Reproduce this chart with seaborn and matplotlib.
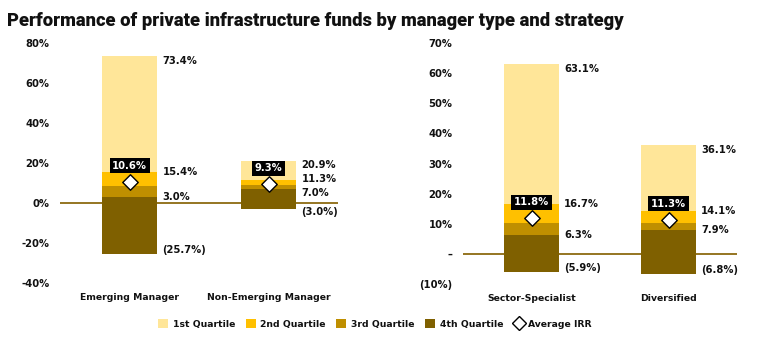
import matplotlib
matplotlib.use("Agg")
import matplotlib.pyplot as plt
from matplotlib.patches import Patch
from matplotlib.lines import Line2D
import seaborn as sns
import pandas as pd

# ---- data ----
left_categories = ["Emerging Manager", "Non-Emerging Manager"]
left_max = [73.4, 20.9]
left_q75 = [15.4, 11.3]
left_median = [8.5, 9.0]
left_q25 = [3.0, 7.0]
left_min = [-25.7, -3.0]
left_irr = [10.6, 9.3]
left_yticks = [-40, -20, 0, 20, 40, 60, 80]
left_yticklabels = ["-40%", "-20%", "0%", "20%", "40%", "60%", "80%"]

right_categories = ["Sector-Specialist", "Diversified"]
right_max = [63.1, 36.1]
right_q75 = [16.7, 14.1]
right_median = [10.3, 10.2]
right_q25 = [6.3, 7.9]
right_min = [-5.9, -6.8]
right_irr = [11.8, 11.3]
right_yticks = [-10, 0, 10, 20, 30, 40, 50, 60, 70]
right_yticklabels = ["(10%)", "\u2013", "10%", "20%", "30%", "40%", "50%", "60%", "70%"]

legend_labels = ["1st Quartile", "2nd Quartile", "3rd Quartile", "4th Quartile", "Average IRR"]

title = "Performance of private infrastructure funds by manager type and strategy"

# ---- style ----
C1 = "#FFE699"
C2 = "#FFC000"
C3 = "#BF8F00"
C4 = "#7F6000"
ZERO = "#8C6A10"
TXT = "#111111"

sns.set_style("white")
plt.rcParams["font.family"] = ["DejaVu Sans"]

fig = plt.figure(figsize=(7.68, 3.51), dpi=100)
W, H = 768, 351
ax_l = fig.add_axes([60 / W, 1 - 283 / H, 278 / W, 240 / H])
ax_r = fig.add_axes([463 / W, 1 - 284 / H, 274 / W, 241 / H])


def fmt(v):
    return f"({abs(v):.1f}%)" if v < 0 else f"{v:.1f}%"


def draw_panel(ax, cats, vmax, q75, med, q25, vmin, irr, ylim, yticks, yticklabels):
    ax.axhline(0, color=ZERO, lw=1.3, zorder=0.5)
    layers = [(vmax, C1), (q75, C2), (med, C3), (q25, C4), (vmin, C4)]
    for vals, col in layers:
        df = pd.DataFrame({"cat": cats, "val": vals})
        sns.barplot(data=df, x="cat", y="val", order=cats, color=col, width=0.4,
                    saturation=1, linewidth=0, errorbar=None, ax=ax, zorder=2)
    df_irr = pd.DataFrame({"cat": cats, "irr": irr})
    sns.scatterplot(data=df_irr, x="cat", y="irr", marker="D", s=62, color="white",
                    edgecolor="black", linewidth=1.0, ax=ax, zorder=5, legend=False)
    ax.set_xlim(-0.5, 1.5)
    ax.set_ylim(*ylim)
    ax.set_yticks(yticks)
    ax.set_yticklabels(yticklabels)
    ax.set_xlabel("")
    ax.set_ylabel("")
    ax.tick_params(axis="both", length=0)
    ax.tick_params(axis="y", pad=7.5)
    ax.tick_params(axis="x", pad=7.5)
    for lab in ax.get_yticklabels():
        lab.set_fontweight("bold")
        lab.set_fontsize(7.2)
        lab.set_color(TXT)
    for lab in ax.get_xticklabels():
        lab.set_fontweight("bold")
        lab.set_fontsize(6.7)
        lab.set_color(TXT)
    sns.despine(ax=ax, left=True, bottom=True)

    # pixels per data unit
    bb = ax.get_window_extent()
    ppu = bb.height / (ylim[1] - ylim[0])
    gaps = [14.0, 14.0, 19.0]
    for i in range(len(cats)):
        vals = [vmax[i], q75[i], q25[i], vmin[i]]
        p = [v * ppu for v in vals]
        p[0] -= 5
        p[3] += 4
        for _ in range(20):
            for k in range(1, 3):
                d = p[k - 1] - p[k]
                if d < gaps[k - 1]:
                    s = (gaps[k - 1] - d) / 2
                    p[k - 1] += s
                    p[k] -= s
        if p[2] - p[3] < gaps[2]:
            p[3] = p[2] - gaps[2]
        for v, pp in zip(vals, p):
            dy_pt = (pp - v * ppu) * 72 / fig.dpi
            ax.annotate(fmt(v), xy=(i + 0.2, v), xytext=(3.8, dy_pt),
                        textcoords="offset points", ha="left", va="center",
                        fontsize=7.2, fontweight="bold", color=TXT, zorder=6)
        ax.annotate(f"{irr[i]:.1f}%", xy=(i, irr[i]), xytext=(0, 11.5),
                    textcoords="offset points", ha="center", va="center",
                    fontsize=7.2, fontweight="bold", color="white", zorder=7,
                    bbox=dict(boxstyle="square,pad=0.25", fc="black", ec="none"))


draw_panel(ax_l, left_categories, left_max, left_q75, left_median, left_q25, left_min,
           left_irr, (-40, 80), left_yticks, left_yticklabels)
draw_panel(ax_r, right_categories, right_max, right_q75, right_median, right_q25, right_min,
           right_irr, (-10, 70), right_yticks, right_yticklabels)

fig.text(7 / W, 1 - 26 / H, title, ha="left", va="baseline", fontsize=13.2,
         fontweight="black", color=TXT, family=["Roboto", "DejaVu Sans"])

handles = [Patch(facecolor=C1, edgecolor="none"),
           Patch(facecolor=C2, edgecolor="none"),
           Patch(facecolor=C3, edgecolor="none"),
           Patch(facecolor=C4, edgecolor="none"),
           Line2D([], [], marker="D", linestyle="none", markersize=7,
                  markerfacecolor="white", markeredgecolor="black", markeredgewidth=1.0)]
leg = fig.legend(handles, legend_labels, loc="center", bbox_to_anchor=(375 / W, 1 - 324 / H),
                 ncol=5, frameon=False, handlelength=1.1, handleheight=1.1,
                 handletextpad=0.5, columnspacing=1.1, prop=dict(weight="bold", size=6.7))
for t in leg.get_texts():
    t.set_color(TXT)

fig.savefig("out.png", dpi=100, facecolor="white")
